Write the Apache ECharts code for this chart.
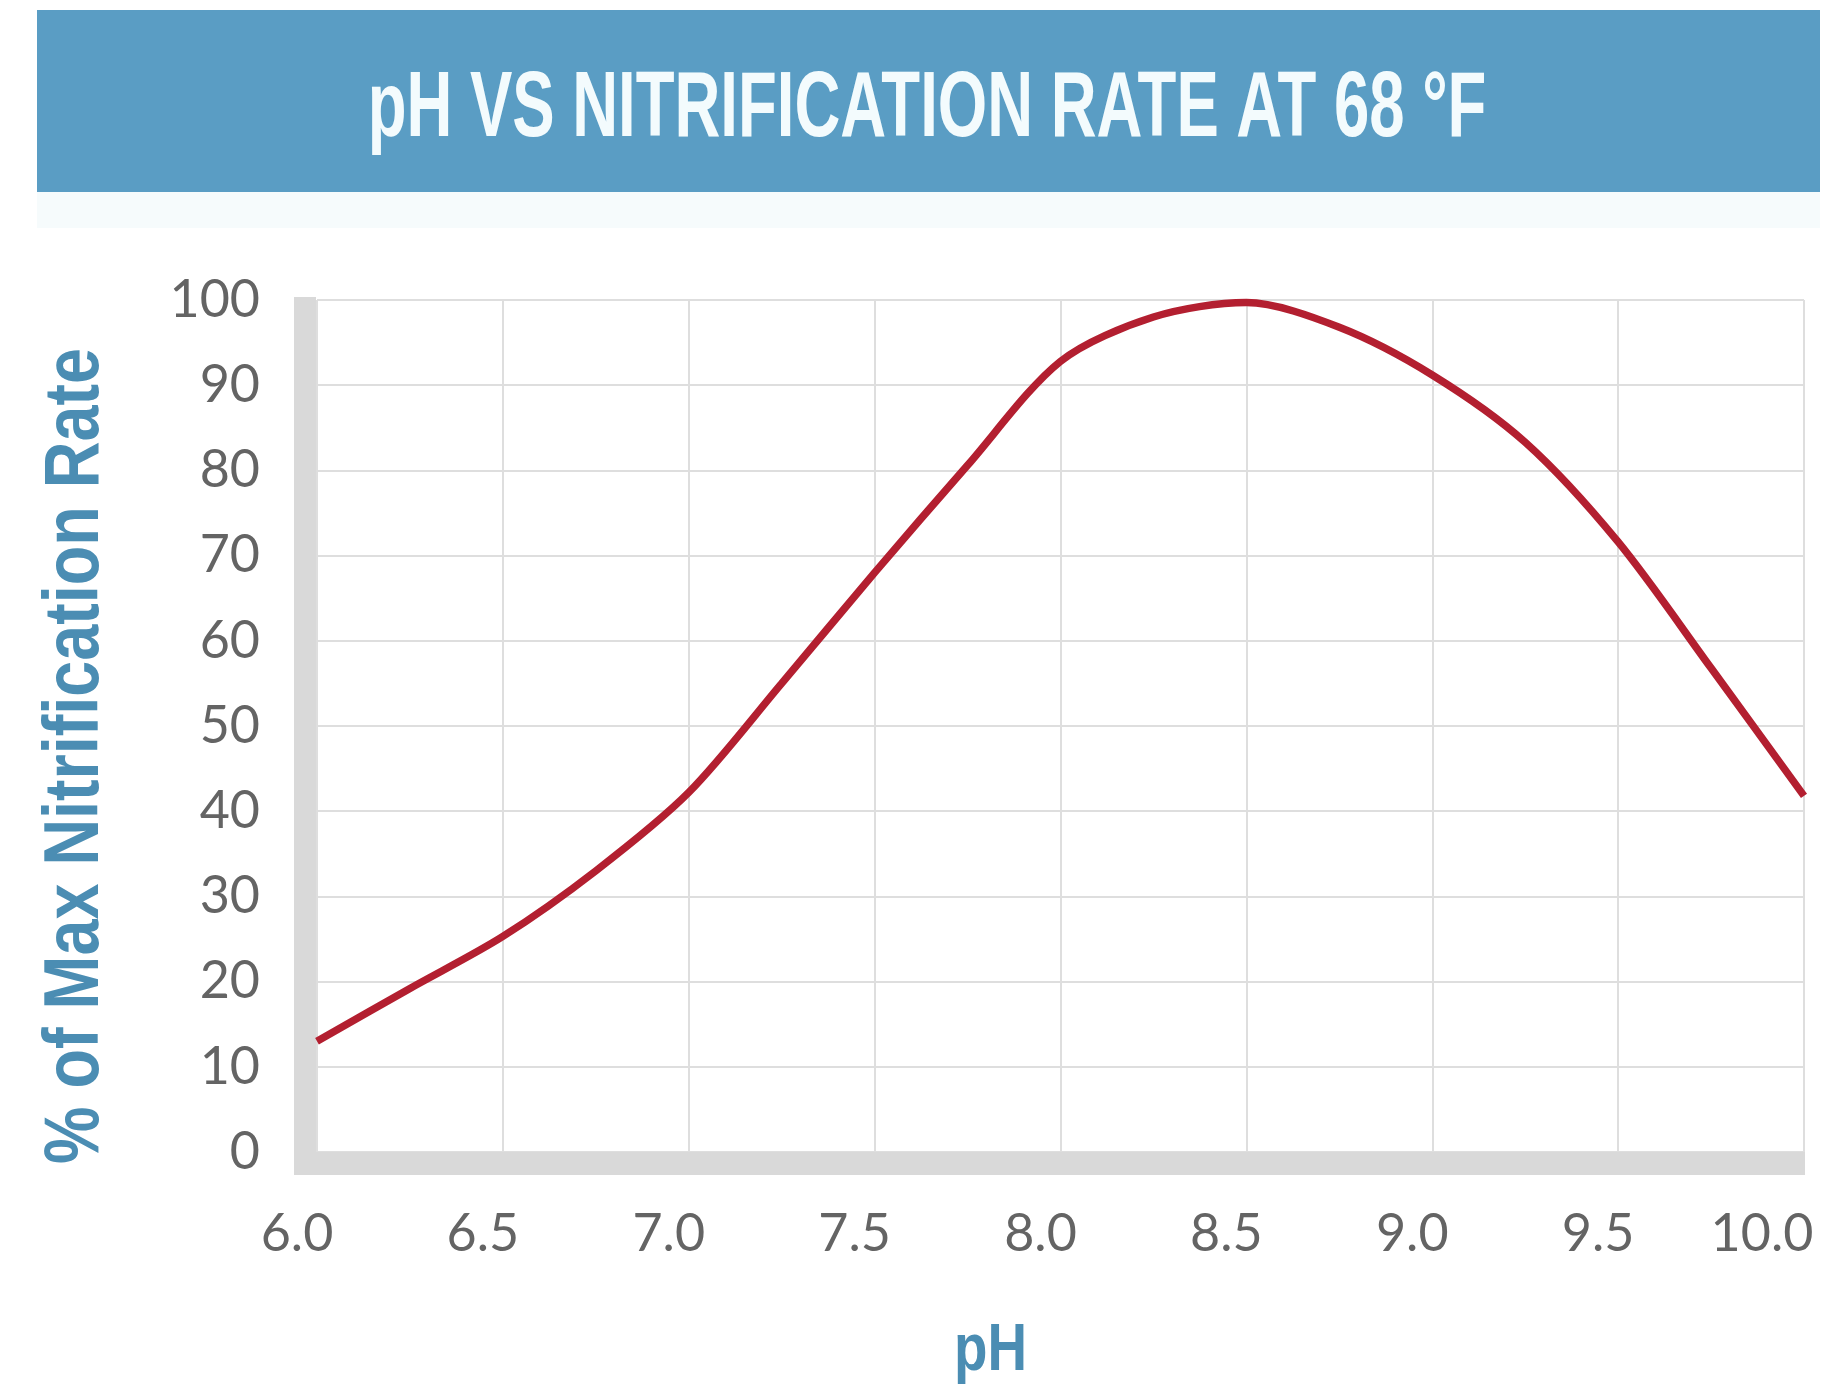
<!DOCTYPE html>
<html>
<head>
<meta charset="utf-8">
<title>pH vs Nitrification Rate</title>
<script src="https://cdn.jsdelivr.net/npm/echarts@6/dist/echarts.min.js"></script>
<style>
  html, body { margin: 0; padding: 0; background: #ffffff; }
  #chart { width: 1844px; height: 1389px; }
</style>
</head>
<body>
<div id="chart"></div>
<script>
// pH readings along the horizontal axis
const phValues = [6.0, 6.25, 6.5, 6.75, 7.0, 7.25, 7.5, 7.75, 8.0, 8.25, 8.5, 8.75, 9.0, 9.25, 9.5, 9.75, 10.0];
// nitrification rate as % of the maximum at each pH (68 °F)
const rateValues = [13, 19.2, 25.3, 33, 42.2, 55, 68, 80.6, 92.8, 98, 99.7, 96.8, 91.2, 83.3, 71.6, 56.8, 41.8];

const chartTitle = 'pH VS NITRIFICATION RATE AT 68 °F';
const xAxisTitle = 'pH';
const yAxisTitle = '% of Max Nitrification Rate';

const xMin = 6, xMax = 10, xStep = 0.5;
const yMin = 0, yMax = 100, yStep = 10;

const chart = echarts.init(document.getElementById('chart'), null, { renderer: 'canvas' });

const gridColor = '#dedede';
const tickColor = '#646464';
const accentBlue = '#4b8db3';
const tickFont = 'Lato, "Noto Sans", sans-serif';

const option = {
  animation: false,
  backgroundColor: '#ffffff',
  grid: { left: 317, right: 40, top: 300, bottom: 237, containLabel: false },
  xAxis: {
    type: 'value',
    min: xMin, max: xMax, interval: xStep,
    axisLine: { show: false },
    axisTick: { show: false },
    splitLine: { show: true, lineStyle: { color: gridColor, width: 2 } },
    axisLabel: {
      // labels sit a little left of their grid lines; the last one is pulled in further
      formatter: v => (v >= xMax ? '{last|' : '{tick|') + v.toFixed(1) + '}',
      margin: 56,
      rich: {
        tick: { color: tickColor, fontFamily: tickFont, fontSize: 52, padding: [0, 40, 0, 0] },
        last: { color: tickColor, fontFamily: tickFont, fontSize: 52, padding: [0, 84, 0, 0] }
      }
    }
  },
  yAxis: {
    type: 'value',
    min: yMin, max: yMax, interval: yStep,
    axisLine: { show: false },
    axisTick: { show: false },
    splitLine: { show: true, lineStyle: { color: gridColor, width: 2 } },
    axisLabel: {
      color: tickColor,
      fontFamily: tickFont,
      fontSize: 52,
      margin: 57
    }
  },
  series: [{
    type: 'line',
    data: phValues.map((p, i) => [p, rateValues[i]]),
    showSymbol: false,
    smooth: 0.3,
    lineStyle: { color: '#b31f30', width: 7.5 },
    z: 5
  }]
};

chart.setOption(option);

// Axis bars are placed from the grid's own pixel mapping
const [xL, yB] = chart.convertToPixel({ gridIndex: 0 }, [xMin, yMin]);
const [xR, yT] = chart.convertToPixel({ gridIndex: 0 }, [xMax, yMax]);
const barW = 22;

chart.setOption({
  graphic: [
    { type: 'rect', id: 'header', z: 0, shape: { x: 37, y: 10, width: 1783, height: 182 }, style: { fill: '#5a9dc4' } },
    { type: 'rect', id: 'headerShade', z: 0, shape: { x: 37, y: 192, width: 1783, height: 36 }, style: { fill: '#f6fbfc' } },
    {
      type: 'text', id: 'title', z: 10,
      x: 927, y: 111, scaleX: 0.69,
      style: {
        text: chartTitle, fill: '#f3fbfd',
        font: 'bold 92px "Liberation Sans", Arial, sans-serif',
        textAlign: 'center', textVerticalAlign: 'middle'
      }
    },
    {
      type: 'rect', id: 'yBar', z: 3,
      shape: { x: xL - barW - 1, y: yT - 3, width: barW, height: yB - yT + 3 + 23 },
      style: { fill: '#d9d9d9' }
    },
    {
      type: 'rect', id: 'xBar', z: 3,
      shape: { x: xL - barW - 1, y: yB, width: xR - xL + barW + 2, height: 23 },
      style: { fill: '#d9d9d9' }
    },
    {
      type: 'text', id: 'yTitle', z: 10,
      x: 77, y: 756, rotation: Math.PI / 2, scaleX: 0.84,
      style: {
        text: yAxisTitle, fill: accentBlue,
        font: 'bold 77px "Liberation Sans", Arial, sans-serif',
        textAlign: 'center', textVerticalAlign: 'middle'
      }
    },
    {
      type: 'text', id: 'xTitle', z: 10,
      x: (xL + xR) / 2 - 70, y: 1352, scaleX: 0.83,
      style: {
        text: xAxisTitle, fill: accentBlue,
        font: 'bold 66px "Liberation Sans", Arial, sans-serif',
        textAlign: 'center', textVerticalAlign: 'middle'
      }
    }
  ]
});
</script>
</body>
</html>
